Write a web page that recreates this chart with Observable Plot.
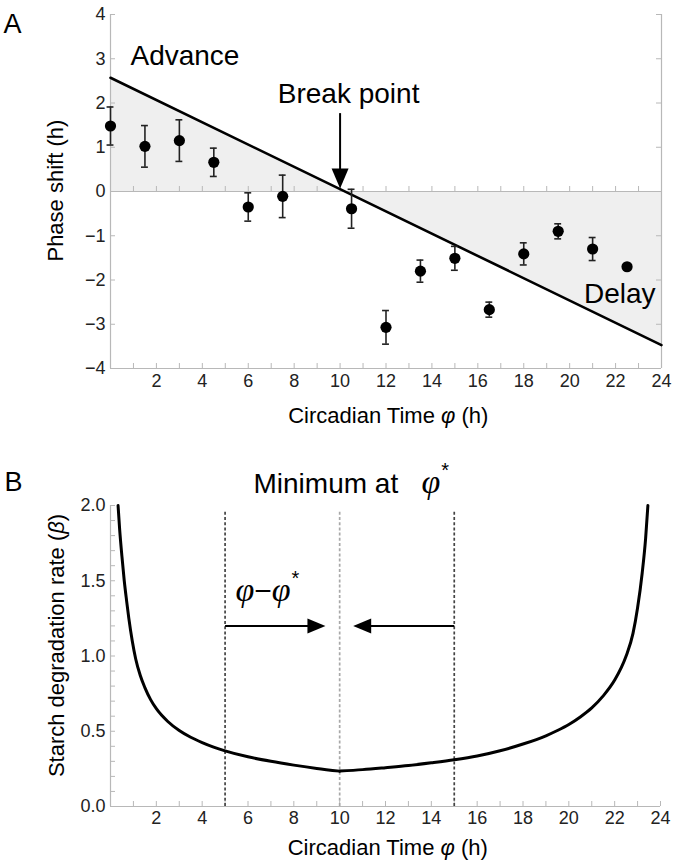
<!DOCTYPE html>
<html><head><meta charset="utf-8">
<script src="https://cdn.jsdelivr.net/npm/d3@7"></script>
<script src="https://cdn.jsdelivr.net/npm/@observablehq/plot@0.6"></script>
<style>
html,body{margin:0;padding:0;background:#fff;}
#chart{width:675px;}
#chart svg{display:block;}
</style></head><body><div id="chart"></div>
<script>
// ---------- Panel A data ----------
const phaseCT    = [0, 1.5, 3, 4.5, 6, 7.5, 10.5, 12, 13.5, 15, 16.5, 18, 19.5, 21, 22.5];
const phaseShift = [1.48, 1.02, 1.15, 0.66, -0.35, -0.11, -0.39, -3.07, -1.80, -1.51, -2.67, -1.41, -0.90, -1.30, -1.70];
const phaseErr   = [0.43, 0.47, 0.47, 0.32, 0.32, 0.48, 0.44, 0.38, 0.25, 0.27, 0.17, 0.25, 0.17, 0.26, 0.03];
const prcLineCT    = [0, 24];
const prcLineShift = [2.57, -3.47];
const breakPointCT = 10;
const xTickLabels = [2, 4, 6, 8, 10, 12, 14, 16, 18, 20, 22, 24];
const xMinorTicks = [0,1,2,3,4,5,6,7,8,9,10,11,12,13,14,15,16,17,18,19,20,21,22,23,24];
const yTickLabelsA = [-4, -3, -2, -1, 0, 1, 2, 3, 4];

// ---------- Panel B data ----------
const betaLeftCT  = [0.33, 0.4, 0.5, 0.6, 0.7, 0.8, 0.95, 1.1, 1.3, 1.5, 1.75, 2.0, 2.5, 3.0, 3.5, 4.0, 4.5, 5.0, 6.0, 7.0, 8.0, 9.0, 10.0];
const betaLeft    = [2.0, 1.84, 1.66, 1.5, 1.37, 1.25, 1.10, 0.98, 0.87, 0.79, 0.71, 0.65, 0.565, 0.505, 0.46, 0.425, 0.395, 0.37, 0.33, 0.30, 0.275, 0.253, 0.235];
const betaRightCT = [10.0, 11, 12, 13, 14, 15, 16, 17, 18, 19, 19.5, 20, 20.5, 21, 21.5, 22, 22.5, 22.8, 23.0, 23.2, 23.35, 23.45];
const betaRight   = [0.235, 0.245, 0.258, 0.272, 0.29, 0.31, 0.335, 0.37, 0.415, 0.47, 0.505, 0.545, 0.595, 0.655, 0.735, 0.84, 1.0, 1.15, 1.32, 1.55, 1.78, 2.0];
const windowCT = [5, 15];
const minimumCT = 10;
const arrowLevel = 1.2;
const arrowTips = [9.38, 10.59];
const yTickLabelsB = [0, 0.5, 1.0, 1.5, 2.0];
const yMinorTicksB = [0,0.1,0.2,0.3,0.4,0.5,0.6,0.7,0.8,0.9,1.0,1.1,1.2,1.3,1.4,1.5,1.6,1.7,1.8,1.9,2.0];

// ---------- helpers ----------
const FONT = "'Liberation Sans', Arial, sans-serif";
const AX = "#b8b8b8";
const TXT = "#222";
const minus = d => d < 0 ? "\u2212" + Math.abs(d) : String(d);
const headRight = {draw(c){ c.moveTo(0,0); c.lineTo(-18,-7.5); c.lineTo(-18,7.5); c.closePath(); }};
const headLeft  = {draw(c){ c.moveTo(0,0); c.lineTo(18,-7.5); c.lineTo(18,7.5); c.closePath(); }};
const headDown  = {draw(c){ c.moveTo(0,0); c.lineTo(-8.5,-20); c.lineTo(8.5,-20); c.closePath(); }};

const ptsA = phaseCT.map((x, i) => ({x, y: phaseShift[i], e: phaseErr[i]}));
const lineA = prcLineCT.map((x, i) => ({x, y: prcLineShift[i]}));

// tick lengths (5px) in data units
const tA_y = 5 * 8 / 354, tA_x = 5 * 24 / 551;
const tB_y = 5 * 2 / 301, tB_x = 5 * 24 / 550;

const plotA = Plot.plot({
  width: 675, height: 430,
  marginTop: 14, marginRight: 14, marginBottom: 62, marginLeft: 110,
  x: {domain: [0, 24], axis: null},
  y: {domain: [-4, 4], axis: null},
  style: {fontFamily: FONT, background: "#fff", overflow: "visible"},
  marks: [
    Plot.areaY(lineA, {x: "x", y1: 0, y2: "y", fill: "#efefef"}),
    Plot.ruleX([0, 24], {y1: -4, y2: 4, stroke: AX, strokeWidth: 1.2}),
    Plot.ruleY([-4, 0], {x1: 0, x2: 24, stroke: AX, strokeWidth: 1.2}),
    Plot.ruleX(xMinorTicks, {x: d => d, y1: -4, y2: -4 + tA_y, stroke: AX}),
    Plot.ruleX(xMinorTicks, {x: d => d, y1: 0, y2: tA_y, stroke: AX}),
    Plot.ruleY(yTickLabelsA, {y: d => d, x1: 0, x2: tA_x, stroke: AX}),
    Plot.ruleY(yTickLabelsA, {y: d => d, x1: 24 - tA_x, x2: 24, stroke: AX}),
    Plot.line(lineA, {x: "x", y: "y", stroke: "#000", strokeWidth: 2.6}),
    Plot.ruleX(ptsA, {x: "x", y1: d => d.y - d.e, y2: d => d.y + d.e, stroke: TXT, strokeWidth: 1.6}),
    Plot.ruleY(ptsA, {y: d => d.y + d.e, x1: d => d.x - 0.15, x2: d => d.x + 0.15, stroke: TXT, strokeWidth: 1.6}),
    Plot.ruleY(ptsA, {y: d => d.y - d.e, x1: d => d.x - 0.15, x2: d => d.x + 0.15, stroke: TXT, strokeWidth: 1.6}),
    Plot.dot(ptsA, {x: "x", y: "y", r: 5.6, fill: "#000"}),
    // break point arrow
    Plot.ruleX([breakPointCT], {x: d => d, y1: 1.76, y2: 0.4, stroke: "#000", strokeWidth: 2}),
    Plot.dot([breakPointCT], {x: d => d, y: 0.07, symbol: headDown, fill: "#000", r: 5}),
    // tick labels
    Plot.text(xTickLabels, {x: d => d, y: -4, dy: 13, text: d => String(d), fontSize: 18, fill: TXT}),
    Plot.text(yTickLabelsA, {x: 0, y: d => d, dx: -5, textAnchor: "end", text: minus, fontSize: 18, fill: TXT}),
    // annotations
    Plot.text(["A"], {frameAnchor: "top-left", dx: -107, dy: 18, textAnchor: "start", lineAnchor: "bottom", text: d => d, fontSize: 27}),
    Plot.text(["Advance"], {x: 0.87, y: 2.87, textAnchor: "start", lineAnchor: "bottom", text: d => d, fontSize: 28}),
    Plot.text(["Break point"], {x: 10.37, y: 1.99, textAnchor: "middle", lineAnchor: "bottom", text: d => d, fontSize: 28}),
    Plot.text(["Delay"], {x: 23.74, y: -2.51, textAnchor: "end", lineAnchor: "bottom", text: d => d, fontSize: 28}),
    Plot.text(["Phase shift (h)"], {x: -2.05, y: 0.02, rotate: -90, textAnchor: "middle", lineAnchor: "bottom", text: d => d, fontSize: 22}),
    Plot.text(["Circadian Time φ (h)"], {x: 12.1, y: -5.24, textAnchor: "middle", lineAnchor: "bottom", text: d => d, fontSize: 22})
  ]
});

const curveB = [
  ...betaLeftCT.map((x, i) => ({x, y: betaLeft[i], seg: "left"})),
  ...betaRightCT.map((x, i) => ({x, y: betaRight[i], seg: "right"}))
];
const arrowsB = [
  {x1: windowCT[0], x2: arrowTips[0], dir: 1},
  {x1: windowCT[1], x2: arrowTips[1], dir: -1}
];

const plotB = Plot.plot({
  width: 675, height: 434,
  marginTop: 75, marginRight: 15, marginBottom: 58, marginLeft: 110,
  x: {domain: [0, 24], axis: null},
  y: {domain: [0, 2], axis: null},
  style: {fontFamily: FONT, background: "#fff", overflow: "visible"},
  marks: [
    Plot.ruleX([0], {y1: 0, y2: 2, stroke: AX, strokeWidth: 1.2}),
    Plot.ruleY([0], {x1: 0, x2: 24, stroke: AX, strokeWidth: 1.2}),
    Plot.ruleX(xMinorTicks, {x: d => d, y1: 0, y2: tB_y, stroke: AX}),
    Plot.ruleY(yMinorTicksB, {y: d => d, x1: 0, x2: tB_x, stroke: AX}),
    Plot.ruleX(windowCT, {x: d => d, y1: 0, y2: 1.97, stroke: "#444", strokeWidth: 1.7, strokeDasharray: "3,2.2"}),
    Plot.ruleX([minimumCT], {x: d => d, y1: 0, y2: 1.97, stroke: "#a8a8a8", strokeWidth: 1.7, strokeDasharray: "3,2.2"}),
    Plot.line(curveB, {x: "x", y: "y", z: "seg", curve: "monotone-x", stroke: "#000", strokeWidth: 3}),
    Plot.link(arrowsB, {x1: "x1", x2: d => d.x2 - d.dir * 0.4, y1: arrowLevel, y2: arrowLevel, stroke: "#000", strokeWidth: 2}),
    Plot.dot([arrowTips[0]], {x: d => d, y: arrowLevel, symbol: headRight, fill: "#000", r: 5}),
    Plot.dot([arrowTips[1]], {x: d => d, y: arrowLevel, symbol: headLeft, fill: "#000", r: 5}),
    Plot.text(xTickLabels, {x: d => d, y: 0, dy: 12, text: d => String(d), fontSize: 18, fill: TXT}),
    Plot.text(yTickLabelsB, {x: 0, y: d => d, dx: -5, textAnchor: "end", text: d => d.toFixed(1), fontSize: 18, fill: TXT}),
    Plot.text(["B"], {frameAnchor: "top-left", dx: -106, dy: -15, textAnchor: "start", lineAnchor: "bottom", text: d => d, fontSize: 27}),
    Plot.text(["Minimum at φ*"], {x: 6.24, y: 2.08, textAnchor: "start", lineAnchor: "bottom", text: d => d, fontSize: 28}),
    Plot.text(["φ−φ*"], {x: 5.45, y: 1.365, textAnchor: "start", lineAnchor: "bottom", text: d => d, fontSize: 28}),
    Plot.text(["Starch degradation rate (β)"], {x: -2.05, y: 1.07, rotate: -90, textAnchor: "middle", lineAnchor: "bottom", text: d => d, fontSize: 22}),
    Plot.text(["Circadian Time φ (h)"], {x: 12.1, y: -0.32, textAnchor: "middle", lineAnchor: "bottom", text: d => d, fontSize: 22})
  ]
});

const phiI = (size) => `<tspan font-family="'Liberation Serif', serif" font-style="italic" font-size="${size}">φ</tspan>`;
const richMap = {
  "Circadian Time φ (h)": `Circadian Time <tspan font-style="italic">φ</tspan> (h)`,
  "Minimum at φ*": `Minimum at   ${phiI(34)}<tspan font-size="20" dx="1" dy="-16">*</tspan>`,
  "φ−φ*": `${phiI(34)}<tspan font-size="30">−</tspan>${phiI(34)}<tspan font-size="20" dx="1" dy="-16">*</tspan>`,
  "Starch degradation rate (β)": `Starch degradation rate (<tspan font-style="italic">β</tspan>)`
};
[plotA, plotB].forEach(svg => {
  svg.querySelectorAll("text").forEach(t => {
    const k = t.textContent;
    if (richMap[k]) { t.setAttribute("xml:space", "preserve"); t.style.whiteSpace = "pre"; t.innerHTML = richMap[k]; }
  });
});

const root = document.getElementById("chart");
root.appendChild(plotA);
root.appendChild(plotB);
</script></body></html>
